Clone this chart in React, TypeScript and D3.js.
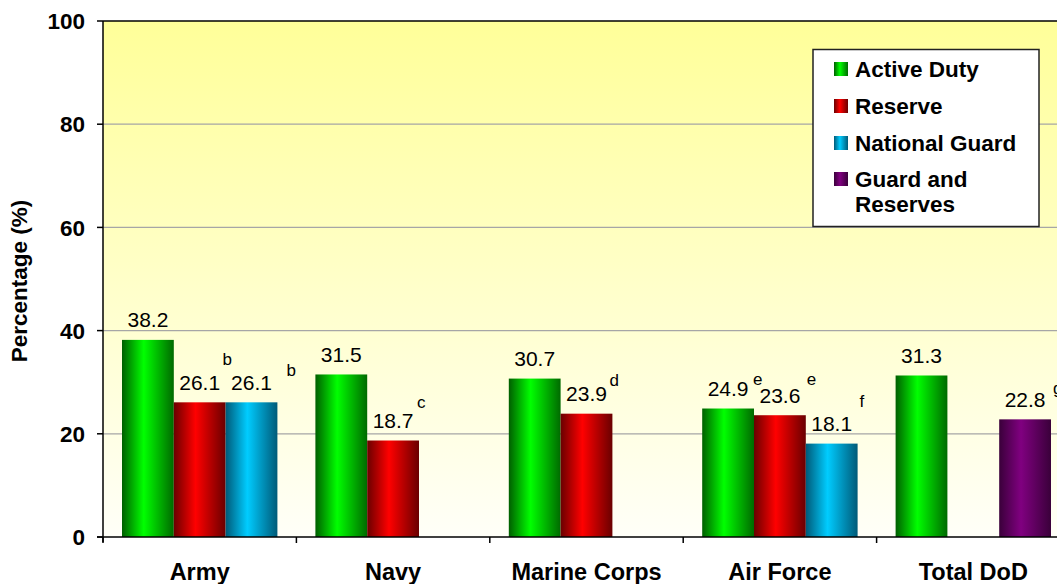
import React from "react"
import * as d3 from "d3"

// chart data
const categories = ["Army", "Navy", "Marine Corps", "Air Force", "Total DoD"]
const seriesNames = ["Active Duty", "Reserve", "National Guard", "Guard and Reserves"]
const activeDuty = [38.2, 31.5, 30.7, 24.9, 31.3]
const reserve = [26.1, 18.7, 23.9, 23.6, null]
const nationalGuard = [26.1, null, null, 18.1, null]
const guardAndReserves = [null, null, null, null, 22.8]
const activeNotes = ["", "", "", "e", ""]
const reserveNotes = ["b", "c", "d", "e", ""]
const guardNotes = ["b", "", "", "f", ""]
const guardResNotes = ["", "", "", "", "g"]
const yTicks = [0, 20, 40, 60, 80, 100]

const seriesValues = [activeDuty, reserve, nationalGuard, guardAndReserves]
const seriesNotes = [activeNotes, reserveNotes, guardNotes, guardResNotes]
// Guard and Reserves shares the third slot
const seriesSlot = [0, 1, 2, 2]

// gradient stops: edge, highlight, edge
const seriesColors = [
  ["#005f00", "#00ff00", "#006a00"],
  ["#6a0000", "#ff0000", "#6a0000"],
  ["#005a78", "#00ccff", "#005a78"],
  ["#3a003a", "#800080", "#3a003a"],
]

// hand tweaks for the footnote letters (dx from bar right edge, dy from label baseline)
const noteOffsets: Record<string, [number, number]> = {
  "0-3": [-1, -11],
  "1-0": [-3, -25],
  "1-1": [-2, -20],
  "1-2": [-3, -15],
  "1-3": [1, -18],
  "2-0": [9, -14],
  "2-3": [2, -24],
  "3-4": [2, -13],
}

const W = 1057
const H = 584
const margin = { top: 21, left: 103, bottom: 47 }
const bandW = 193.4
const font = "'Liberation Sans', Arial, Helvetica, sans-serif"

export default function App() {
  const x0 = d3
    .scaleBand()
    .domain(categories)
    .range([margin.left, margin.left + bandW * categories.length])
    .padding(0)
  const x1 = d3.scaleBand().domain(["0", "1", "2"]).range([19, bandW - 19]).padding(0)
  const y = d3.scaleLinear().domain([0, 100]).range([H - margin.bottom, margin.top])

  const bars: any[] = []
  seriesValues.forEach((vals, s) => {
    vals.forEach((v, i) => {
      if (v == null) return
      const bx = (x0(categories[i]) as number) + (x1(String(seriesSlot[s])) as number)
      bars.push({ s, i, v, x: bx, w: x1.bandwidth(), note: seriesNotes[s][i] })
    })
  })

  const legendRows = [
    { s: 0, lines: ["Active Duty"], y: 69 },
    { s: 1, lines: ["Reserve"], y: 106 },
    { s: 2, lines: ["National Guard"], y: 143 },
    { s: 3, lines: ["Guard and", "Reserves"], y: 179 },
  ]

  return (
    <svg
      width={W}
      height={H}
      style={{ position: "absolute", left: 0, top: 0, fontFamily: font }}
    >
      <defs>
        <linearGradient id="bg" x1="0" y1="0" x2="0" y2="1">
          <stop offset="0%" stopColor="#ffff99" />
          <stop offset="100%" stopColor="#fffff8" />
        </linearGradient>
        {seriesColors.map((c, s) => (
          <linearGradient key={s} id={`g${s}`} x1="0" y1="0" x2="1" y2="0">
            <stop offset="0%" stopColor={c[0]} />
            <stop offset="42%" stopColor={c[1]} />
            <stop offset="100%" stopColor={c[2]} />
          </linearGradient>
        ))}
      </defs>

      <rect
        x={margin.left}
        y={margin.top}
        width={W - margin.left}
        height={y(0) - margin.top}
        fill="url(#bg)"
      />

      {/* gridlines */}
      {yTicks
        .filter((t) => t > 0 && t < 100)
        .map((t) => (
          <line key={t} x1={margin.left} x2={W} y1={y(t)} y2={y(t)} stroke="#a6a6a6" strokeWidth={1.2} />
        ))}
      <line x1={margin.left} x2={W} y1={y(100)} y2={y(100)} stroke="#000" strokeWidth={1.5} />

      {/* bars */}
      {bars.map((b) => (
        <rect
          key={`${b.s}-${b.i}`}
          x={b.x}
          y={y(b.v)}
          width={b.w}
          height={y(0) - y(b.v)}
          fill={`url(#g${b.s})`}
        />
      ))}

      {/* value labels + footnotes */}
      {bars.map((b) => {
        const base = y(b.v) - 12.5
        const off = noteOffsets[`${b.s}-${b.i}`] || [0, -16]
        return (
          <g key={`l${b.s}-${b.i}`}>
            <text x={b.x + b.w / 2} y={base} textAnchor="middle" fontSize={21} fill="#000">
              {b.v.toFixed(1)}
            </text>
            {b.note && (
              <text x={b.x + b.w + off[0]} y={base + off[1]} fontSize={17} fill="#000">
                {b.note}
              </text>
            )}
          </g>
        )
      })}

      {/* y axis */}
      <line x1={margin.left} x2={margin.left} y1={margin.top} y2={y(0) + 5} stroke="#000" strokeWidth={1.5} />
      {yTicks.map((t) => (
        <g key={t}>
          <line x1={margin.left - 6} x2={margin.left} y1={y(t)} y2={y(t)} stroke="#000" strokeWidth={1.5} />
          <text
            x={85}
            y={y(t)}
            dy="0.36em"
            textAnchor="end"
            fontSize={22.5}
            fontWeight="bold"
            fill="#000"
          >
            {t}
          </text>
        </g>
      ))}
      <text
        transform={`translate(27,${(margin.top + y(0)) / 2 + 2}) rotate(-90)`}
        textAnchor="middle"
        fontSize={22.5}
        fontWeight="bold"
        fill="#000"
      >
        Percentage (%)
      </text>

      {/* x axis */}
      <line x1={margin.left - 6} x2={W} y1={y(0)} y2={y(0)} stroke="#000" strokeWidth={1.5} />
      {categories.map((c) => (
        <g key={c}>
          <line
            x1={x0(c) as number}
            x2={x0(c) as number}
            y1={y(0)}
            y2={y(0) + 6}
            stroke="#000"
            strokeWidth={1.5}
          />
          <text
            x={(x0(c) as number) + bandW / 2}
            y={580}
            textAnchor="middle"
            fontSize={23.5}
            fontWeight="bold"
            fill="#000"
          >
            {c}
          </text>
        </g>
      ))}

      {/* legend */}
      <rect x={813} y={49.5} width={226} height={177} fill="#fff" stroke="#222" strokeWidth={1.5} />
      {legendRows.map((r) => (
        <g key={r.s}>
          <rect x={834} y={r.y - 7} width={14} height={14} fill={`url(#g${r.s})`} />
          {r.lines.map((ln, k) => (
            <text
              key={k}
              x={855}
              y={r.y + k * 25}
              dy="0.36em"
              fontSize={22.5}
              fontWeight="bold"
              fill="#000"
            >
              {ln}
            </text>
          ))}
        </g>
      ))}
    </svg>
  )
}
